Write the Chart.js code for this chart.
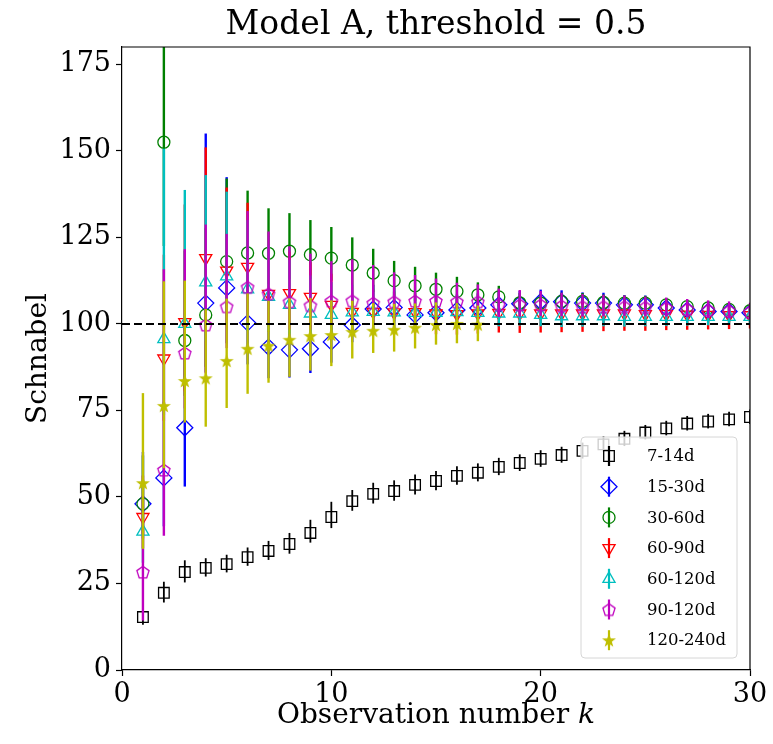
<!DOCTYPE html>
<html>
<head>
<meta charset="utf-8">
<script src="https://cdn.jsdelivr.net/npm/chart.js@4.4.0/dist/chart.umd.min.js"></script>
<style>
  html, body { margin: 0; padding: 0; background: #fff; }
</style>
</head>
<body>
<canvas id="chart" width="773" height="744"></canvas>
<script>
// observation number k
var obsK = [1, 2, 3, 4, 5, 6, 7, 8, 9, 10, 11, 12, 13, 14, 15, 16, 17, 18, 19, 20, 21, 22, 23, 24, 25, 26, 27, 28, 29, 30];
var xTicks = [0, 10, 20, 30];
var yTicks = [0, 25, 50, 75, 100, 125, 150, 175];
var trueValue = 100;
var seriesNames = ['7-14d', '15-30d', '30-60d', '60-90d', '60-120d', '90-120d', '120-240d'];

// Schnabel estimates + lower / upper error lengths
var est7_14 = [15.3, 22.3, 28.3, 29.5, 30.6, 32.6, 34.4, 36.4, 39.6, 44.2, 48.8, 50.9, 51.7, 53.5, 54.6, 56.1, 57.0, 58.7, 59.8, 61.0, 62.1, 63.3, 65.2, 66.8, 68.6, 69.8, 71.2, 71.8, 72.4, 73.1];
var lo7_14 = [2.2, 2.8, 3, 2.5, 2.4, 2.5, 2.6, 2.8, 2.8, 3.2, 2.8, 2.8, 2.8, 2.8, 2.7, 2.6, 2.5, 2.4, 2.3, 2.3, 2.2, 2.2, 2.1, 2.1, 2, 2, 2, 2, 2, 2];
var hi7_14 = [2.5, 3.2, 3.4, 2.8, 2.7, 2.8, 2.9, 3.2, 3.8, 4.4, 3.2, 3.2, 3.1, 3.0, 2.9, 2.8, 2.7, 2.6, 2.5, 2.5, 2.4, 2.4, 2.3, 2.3, 2.2, 2.2, 2.2, 2.2, 2.2, 2.2];

var est15_30 = [48, 55.5, 70, 106, 110.4, 100.3, 93.3, 92.5, 92.8, 94.8, 99.7, 104.3, 104.7, 102.6, 103.2, 104, 104.6, 105.5, 105.8, 106.4, 106.4, 106, 106, 105.5, 105.5, 104.6, 104, 103.6, 103.6, 103.2];
var lo15_30 = [10, 14, 17, 20, 16, 12, 9, 8, 7, 6, 5, 4.5, 4, 3.8, 3.5, 3.3, 3.1, 3, 2.8, 2.7, 2.6, 2.5, 2.4, 2.3, 2.2, 2.1, 2, 2, 1.9, 1.8];
var hi15_30 = [15, 22, 30, 49, 32, 22, 16, 13, 12, 10, 8, 7, 6, 5.5, 5, 4.5, 4.2, 4, 3.7, 3.5, 3.3, 3.1, 3, 2.8, 2.7, 2.6, 2.5, 2.4, 2.3, 2.2];

var est30_60 = [48, 152.5, 95.2, 102.6, 118, 120.5, 120.4, 121, 120, 119, 117, 114.7, 112.5, 111, 110, 109.4, 108.4, 107.8, 106.1, 106, 106.5, 106.5, 106.2, 106, 106, 105.5, 105, 104.6, 104.2, 103.8];
var lo30_60 = [9, 30, 16, 15, 14, 11, 9, 8, 7, 6.5, 6, 5.5, 4.5, 4.3, 3.8, 3.4, 3, 2.7, 2.4, 2.2, 2.1, 2, 1.9, 1.9, 1.8, 1.7, 1.7, 1.6, 1.6, 1.5];
var hi30_60 = [14, 45, 26, 25, 24, 18, 13, 11, 10, 9, 8, 7, 5.7, 5.5, 4.8, 4.2, 3.6, 3.2, 2.8, 2.6, 2.5, 2.4, 2.3, 2.2, 2.1, 2, 1.9, 1.8, 1.8, 1.7];

var est60_90 = [44.2, 90, 100.5, 119, 115.4, 116.5, 108.7, 108.9, 107.8, 105.5, 103.5, 103.5, 103.3, 103.4, 103, 102.8, 103, 103.2, 103, 103, 103, 103, 103, 103, 102.8, 102.8, 102.7, 102.6, 102.5, 102.5];
var lo60_90 = [9, 18, 20, 20, 16, 13, 11, 10, 9, 8, 7, 6.6, 6.3, 6.1, 6, 5.9, 5.8, 5.7, 5.6, 5.5, 5.4, 5.3, 5.1, 5, 4.8, 4.6, 4.4, 4.2, 4, 3.8];
var hi60_90 = [12, 30, 34, 32, 24, 18.5, 14, 12, 10, 9, 7.5, 6.5, 6, 5.5, 5, 4.6, 4.3, 4, 3.8, 3.6, 3.4, 3.3, 3.2, 3.1, 3, 2.9, 2.8, 2.7, 2.6, 2.5];

var est60_120 = [40, 95.6, 100, 112, 113.7, 110, 107.8, 105.5, 103, 102.6, 103.3, 103.5, 103.3, 103.2, 103.2, 103.4, 103.2, 103, 103, 102.6, 102.2, 102.2, 102.2, 102, 102, 102, 102, 102, 102, 102];
var lo60_120 = [9, 22, 18, 17, 14, 12, 10, 8.5, 7.5, 7, 6, 5.5, 5, 4.7, 4.4, 4.1, 3.9, 3.7, 3.5, 3.3, 3.1, 3, 2.9, 2.8, 2.7, 2.6, 2.5, 2.4, 2.3, 2.2];
var hi60_120 = [14, 55, 38.7, 31, 24.5, 20, 15, 13, 11, 9.5, 8, 7, 6.2, 5.7, 5.2, 4.8, 4.4, 4, 3.8, 3.6, 3.4, 3.3, 3.2, 3.1, 3, 2.9, 2.8, 2.7, 2.6, 2.5];

var est90_120 = [28.3, 57.8, 91.6, 99.7, 105, 110.6, 108.7, 106.4, 105.3, 106.6, 106.7, 106, 106.4, 106.6, 106.6, 106.4, 106.4, 105.6, 105.5, 105.5, 105.2, 105, 105, 105, 104.8, 104.6, 104.3, 104, 103.8, 103.5];
var lo90_120 = [14, 19, 16, 14, 12, 10, 9, 8, 7, 6.5, 6, 5.5, 5, 4.6, 4.3, 4, 3.8, 3.6, 3.4, 3.2, 3, 2.9, 2.8, 2.7, 2.6, 2.5, 2.4, 2.3, 2.2, 2.1];
var hi90_120 = [22, 58, 30, 29, 21, 22, 18, 16, 15, 11.5, 12, 11, 8.5, 7.5, 6.5, 5.5, 5, 4.6, 4.3, 4, 3.8, 3.6, 3.4, 3.2, 3.1, 3, 2.9, 2.8, 2.7, 2.6];

var est120_240 = [54, 76.3, 83.5, 84.3, 89.3, 92.8, 93.7, 95.4, 96.5, 96.8, 97.7, 98, 98.3, 98.9, 99.7, 100, 99.8];
var lo120_240 = [19, 18, 12, 14, 13.6, 13, 10.7, 10.7, 10, 9, 7.7, 6.4, 6.3, 6, 5.7, 5.6, 4.8];
var hi120_240 = [26, 36, 29, 20, 18, 16, 13, 12, 11, 10, 9, 8, 7.5, 7, 6.5, 6, 5.5];

var serifFont = "'DejaVu Serif', 'Liberation Serif', serif";

// pentagon / star markers (not in Chart.js)
function makeMarker(kind, color) {
  var c = document.createElement('canvas');
  c.width = 16;
  c.height = 16;
  var g = c.getContext('2d');
  var n = kind == 'star' ? 10 : 5;
  g.beginPath();
  for (var i = 0; i < n; i++) {
    var r = kind == 'star' ? (i % 2 ? 2.2 : 5.4) : 6.4;
    var a = -Math.PI / 2 + i * 2 * Math.PI / n;
    var px = 8 + r * Math.cos(a);
    var py = 8.6 + r * Math.sin(a);
    if (i) g.lineTo(px, py); else g.moveTo(px, py);
  }
  g.closePath();
  if (kind == 'star') {
    g.fillStyle = color;
    g.fill();
  }
  g.strokeStyle = color;
  g.lineWidth = 1.3;
  g.stroke();
  return c;
}

function makeSeries(i, est, lo, hi, color, style, radius, rotation) {
  return {
    label: seriesNames[i],
    type: 'scatter',
    data: est.map(function (v, j) { return { x: obsK[j], y: v }; }),
    errLo: lo,
    errHi: hi,
    borderColor: color,
    backgroundColor: 'rgba(0,0,0,0)',
    pointStyle: style,
    pointRadius: radius,
    pointRotation: rotation || 0,
    pointBorderWidth: 1.3,
    order: 20 - i,
    clip: 0
  };
}

var datasets = [
  makeSeries(0, est7_14, lo7_14, hi7_14, '#000000', 'rect', 7.5),
  makeSeries(1, est15_30, lo15_30, hi15_30, '#0000ff', 'rectRot', 8),
  makeSeries(2, est30_60, lo30_60, hi30_60, '#008000', 'circle', 6),
  makeSeries(3, est60_90, lo60_90, hi60_90, '#ff0000', 'triangle', 7, 180),
  makeSeries(4, est60_120, lo60_120, hi60_120, '#00bfbf', 'triangle', 7),
  makeSeries(5, est90_120, lo90_120, hi90_120, '#bf00bf', makeMarker('pentagon', '#bf00bf'), 7),
  makeSeries(6, est120_240, lo120_240, hi120_240, '#bfbf00', makeMarker('star', '#bfbf00'), 7)
];

datasets.push({
  type: 'line',
  label: 'true',
  data: [{ x: xTicks[0], y: trueValue }, { x: xTicks[xTicks.length - 1], y: trueValue }],
  borderColor: '#000',
  borderWidth: 2,
  borderDash: [8, 4],
  pointRadius: 0,
  order: 0
});

// vertical error bars, drawn just before each series' markers
var errorBars = {
  id: 'errorBars',
  beforeDatasetDraw: function (chart, args) {
    var ds = chart.data.datasets[args.index];
    if (!ds.errLo) return;
    var ctx = chart.ctx;
    var area = chart.chartArea;
    var xs = chart.scales.x, ys = chart.scales.y;
    ctx.save();
    ctx.beginPath();
    ctx.rect(area.left, area.top, area.right - area.left, area.bottom - area.top);
    ctx.clip();
    ctx.strokeStyle = ds.borderColor;
    ctx.lineWidth = ds.label == '7-14d' ? 1.8 : 2.4;
    ds.data.forEach(function (p, j) {
      var px = xs.getPixelForValue(p.x);
      ctx.beginPath();
      ctx.moveTo(px, ys.getPixelForValue(p.y - ds.errLo[j]));
      ctx.lineTo(px, ys.getPixelForValue(p.y + ds.errHi[j]));
      ctx.stroke();
    });
    ctx.restore();
  }
};

// title, x label, box frame and legend
var decorations = {
  id: 'decorations',
  afterDraw: function (chart) {
    var ctx = chart.ctx;
    var area = chart.chartArea;
    var cx = (area.left + area.right) / 2;
    ctx.save();
    ctx.fillStyle = '#000';
    ctx.textBaseline = 'middle';
    ctx.textAlign = 'center';
    ctx.font = '33px ' + serifFont;
    ctx.fillText('Model A, threshold = 0.5', cx, 25);

    // x label with italic k
    ctx.textAlign = 'left';
    ctx.font = '28px ' + serifFont;
    var part1 = 'Observation number ';
    var w1 = ctx.measureText(part1).width;
    ctx.font = 'italic 28px ' + serifFont;
    var w2 = ctx.measureText('k').width;
    var x0 = cx - (w1 + w2) / 2;
    ctx.font = '28px ' + serifFont;
    ctx.fillText(part1, x0, 716);
    ctx.font = 'italic 28px ' + serifFont;
    ctx.fillText('k', x0 + w1, 716);

    // top and right spines
    ctx.strokeStyle = '#000';
    ctx.lineWidth = 1.2;
    ctx.beginPath();
    ctx.moveTo(area.left, area.top);
    ctx.lineTo(area.right, area.top);
    ctx.lineTo(area.right, area.bottom);
    ctx.stroke();

    // legend
    var bw = 156, bh = 221;
    var bx = area.right - 13 - bw, by = area.bottom - 12 - bh;
    ctx.beginPath();
    ctx.roundRect(bx, by, bw, bh, 4);
    ctx.fillStyle = 'rgba(255,255,255,0.8)';
    ctx.fill();
    ctx.strokeStyle = '#d6d6d6';
    ctx.lineWidth = 1;
    ctx.stroke();

    ctx.font = '16.5px ' + serifFont;
    chart.data.datasets.forEach(function (ds, i) {
      if (!ds.errLo) return;
      var ly = by + 19 + i * 30.7;
      var lx = bx + 28;
      ctx.strokeStyle = ds.borderColor;
      ctx.lineWidth = 2.2;
      ctx.beginPath();
      ctx.moveTo(lx, ly - 10);
      ctx.lineTo(lx, ly + 10);
      ctx.stroke();
      ctx.lineWidth = 1.3;
      ctx.fillStyle = 'rgba(0,0,0,0)';
      Chart.helpers.drawPoint(ctx, {
        pointStyle: ds.pointStyle,
        radius: ds.pointRadius,
        rotation: ds.pointRotation,
        borderWidth: 1.3
      }, lx, ly);
      ctx.fillStyle = '#000';
      ctx.fillText(ds.label, bx + 66, ly + 1);
    });
    ctx.restore();
  }
};

var chart = new Chart(document.getElementById('chart'), {
  type: 'scatter',
  data: { datasets: datasets },
  plugins: [errorBars, decorations],
  options: {
    responsive: false,
    animation: false,
    events: [],
    layout: { padding: { top: 47, right: 23, left: 0, bottom: 0 } },
    plugins: {
      legend: { display: false },
      tooltip: { enabled: false },
      title: { display: false }
    },
    scales: {
      x: {
        type: 'linear',
        min: xTicks[0],
        max: xTicks[xTicks.length - 1],
        afterBuildTicks: function (scale) {
          scale.ticks = xTicks.map(function (v) { return { value: v }; });
        },
        afterFit: function (scale) { scale.height = 74; },
        grid: { drawOnChartArea: false, drawTicks: true, tickLength: 6, color: '#000', tickWidth: 1.2 },
        border: { color: '#000', width: 1.2 },
        ticks: { color: '#000', padding: 3, font: { family: serifFont, size: 27 } }
      },
      y: {
        type: 'linear',
        min: 0,
        max: 180,
        afterBuildTicks: function (scale) {
          scale.ticks = yTicks.map(function (v) { return { value: v }; });
        },
        afterFit: function (scale) { scale.width = 122; },
        grid: { drawOnChartArea: false, drawTicks: true, tickLength: 6, color: '#000', tickWidth: 1.2 },
        border: { color: '#000', width: 1.2 },
        ticks: { color: '#000', padding: 5, font: { family: serifFont, size: 27 } },
        title: {
          display: true,
          text: 'Schnabel',
          color: '#000',
          font: { family: serifFont, size: 28 },
          padding: { top: 22, bottom: 0 }
        }
      }
    }
  }
});
</script>
</body>
</html>
